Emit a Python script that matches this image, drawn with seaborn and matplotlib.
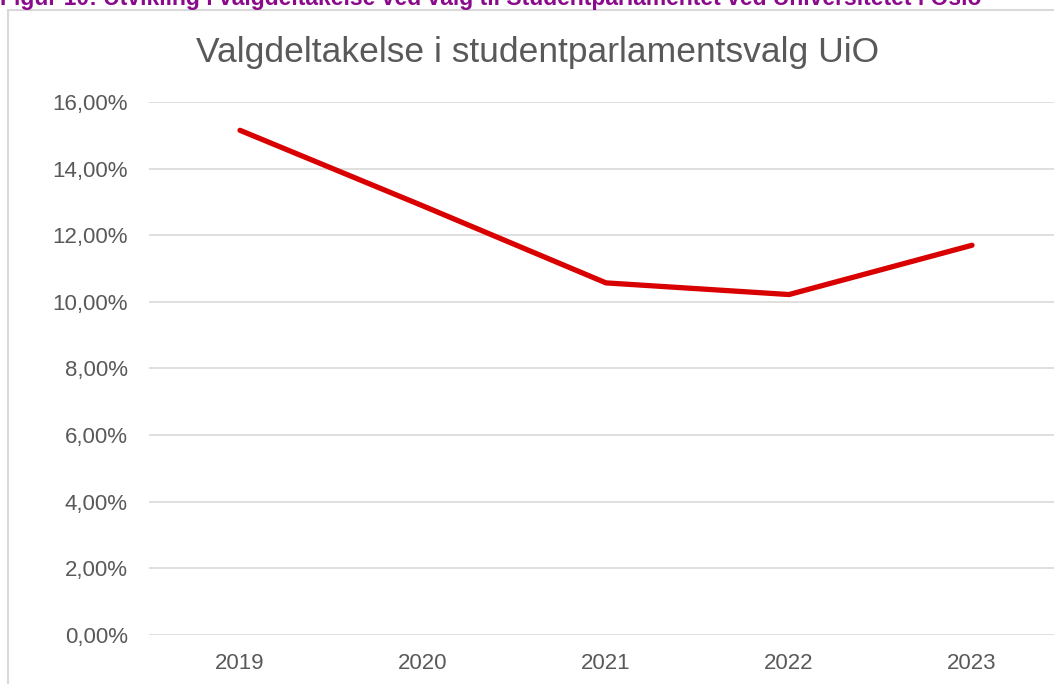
import pandas as pd
import matplotlib.pyplot as plt
import seaborn as sns
from matplotlib.patches import Rectangle
from matplotlib.ticker import FuncFormatter

years = ['2019', '2020', '2021', '2022', '2023']
turnout = [15.15, 12.88, 10.57, 10.22, 11.70]
yticks = [0, 2, 4, 6, 8, 10, 12, 14, 16]

caption = 'Figur 10: Utvikling i valgdeltakelse ved valg til Studentparlamentet ved Universitetet i Oslo'
title = 'Valgdeltakelse i studentparlamentsvalg UiO'

sns.set_style('white')
plt.rcParams['font.family'] = ['Liberation Sans', 'DejaVu Sans']

df = pd.DataFrame({'year': years, 'turnout': turnout})

W, H = 1054, 684
fig = plt.figure(figsize=(W / 100, H / 100), dpi=100)

# chart border
fig.patches.append(Rectangle((8 / W, -0.05), 1.1, (H - 10) / H + 0.05, transform=fig.transFigure,
                             fill=False, edgecolor='#D9D9D9', linewidth=1.5))

ax = fig.add_axes([148.5 / W, (H - 635) / H, 915 / W, 533 / H])
sns.lineplot(data=df, x='year', y='turnout', ax=ax, color='#D90000', linewidth=3.8, sort=False)

ax.set_xlim(-0.5, 4.5)
ax.set_ylim(0, 16)
ax.set_yticks(yticks)
ax.yaxis.set_major_formatter(FuncFormatter(lambda v, p: f'{v:.2f}%'.replace('.', ',')))
ax.grid(axis='y', color='#D9D9D9', linewidth=1.2)
ax.set_axisbelow(True)
for s in ax.spines.values():
    s.set_visible(False)
ax.tick_params(axis='y', length=0, pad=15, labelsize=16, labelcolor='#595959')
ax.tick_params(axis='x', length=0, pad=13, labelsize=16, labelcolor='#595959')
ax.set_xlabel('')
ax.set_ylabel('')

fig.text(538 / W, (H - 62) / H, title, ha='center', va='baseline', fontsize=25.5, color='#595959')
fig.text(0, (H - 5) / H, caption, ha='left', va='baseline', fontsize=16.5,
         fontweight='bold', color='#8B0A8B')

fig.savefig('out.png', dpi=100)
